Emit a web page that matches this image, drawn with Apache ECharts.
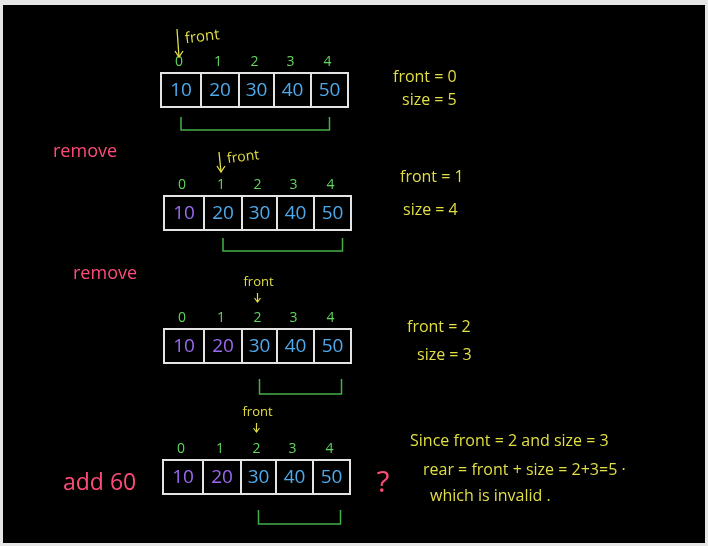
<!DOCTYPE html>
<html>
<head>
<meta charset="utf-8">
<title>Queue front and size</title>
<script src="https://cdn.jsdelivr.net/npm/echarts@6/dist/echarts.min.js"></script>
<style>
  html, body { margin: 0; padding: 0; background: #e6e6e6; }
  #main { position: absolute; left: 3px; top: 5px; width: 702px; height: 538px; background: #000; }
</style>
</head>
<body>
<div id="main"></div>
<script type="text/javascript">

// ---- data ----
var values = [10, 20, 30, 40, 50];
var slots = [0, 1, 2, 3, 4];
var fronts = [0, 1, 2, 2];
var sizes = [5, 4, 3, 3];
var actions = ['', 'remove', 'remove', 'add 60'];
var flags = ['', '', '', '?'];
var notes = [
    ['front = 0', 'size = 5'],
    ['front = 1', 'size = 4'],
    ['front = 2', 'size = 3'],
    ['Since front = 2 and size = 3', 'rear = front + size = 2+3=5 \u00b7', 'which is invalid .']
];

// ---- layout (axis units = image pixels) ----
var rowLeft = [161, 164, 164, 163];
var rowTop = [73, 196, 329, 460];
var cellH = 34;
var cellEdges = [0, 40, 78, 113, 150, 187];
var bracketGap = [10, 8, 16, 16];
var bracketH = [13, 13, 15, 14];
var bracketPad = [0, 10, 9, 9];
var pointerKind = ['side', 'side', 'above', 'above'];
var pointerY = [43, 162, 288, 418];
var actionPos = [null, [53, 152], [73, 274], [63, 483]];
var flagPos = [null, null, null, [383, 483]];
var notePos = [
    [[393, 77], [402, 100]],
    [[400, 177], [403, 210]],
    [[407, 327], [417, 355]],
    [[410, 441], [423, 470], [430, 496]]
];

var FONT = '"Open Sans", "DejaVu Sans", sans-serif';
var YELLOW = '#e2df45';
var GREEN = '#62d65a';
var BRACKET = '#45b04a';
var BLUE = '#4fa9ea';
var PURPLE = '#9a6af0';
var PINK = '#ff4b78';
var BOX = '#e4e4e4';

function cellCenter(r, i) {
    return rowLeft[r] + (cellEdges[i] + cellEdges[i + 1]) / 2;
}

var cellData = [];
var indexData = [];
for (var r = 0; r < fronts.length; r++) {
    for (var i = 0; i < slots.length; i++) {
        cellData.push([r, slots[i], values[i], fronts[r]]);
        indexData.push([r, slots[i]]);
    }
}
var rowData = fronts.map(function (f, r) { return [r, f, sizes[r]]; });
var noteData = [];
notes.forEach(function (lines, r) {
    lines.forEach(function (t, k) { noteData.push([r, k, t]); });
});

var myChart = echarts.init(document.getElementById('main'));

var option = {
    backgroundColor: '#000',
    animation: false,
    grid: { left: 0, right: 0, top: 0, bottom: 0 },
    xAxis: { type: 'value', min: 3, max: 705, show: false },
    yAxis: { type: 'value', min: 5, max: 543, inverse: true, show: false },
    series: [
        {
            // array cells with their values
            type: 'custom',
            data: cellData,
            renderItem: function (params, api) {
                var r = api.value(0), i = api.value(1), v = api.value(2), f = api.value(3);
                var p0 = api.coord([rowLeft[r] + cellEdges[i], rowTop[r]]);
                var p1 = api.coord([rowLeft[r] + cellEdges[i + 1], rowTop[r] + cellH]);
                return {
                    type: 'group',
                    children: [
                        {
                            type: 'rect',
                            shape: { x: p0[0], y: p0[1], width: p1[0] - p0[0], height: p1[1] - p0[1] },
                            style: { fill: 'none', stroke: BOX, lineWidth: 2 }
                        },
                        {
                            type: 'text',
                            x: (p0[0] + p1[0]) / 2,
                            y: (p0[1] + p1[1]) / 2 + 1,
                            style: {
                                text: String(v), fill: i < f ? PURPLE : BLUE,
                                font: '19px ' + FONT, align: 'center', verticalAlign: 'middle'
                            }
                        }
                    ]
                };
            }
        },
        {
            // slot indices
            type: 'custom',
            data: indexData,
            renderItem: function (params, api) {
                var r = api.value(0), i = api.value(1);
                var p = api.coord([cellCenter(r, i) - 2, rowTop[r] - 11]);
                return {
                    type: 'text', x: p[0], y: p[1],
                    style: { text: String(i), fill: GREEN, font: '14px ' + FONT, align: 'center', verticalAlign: 'middle' }
                };
            }
        },
        {
            // bracket spanning the live elements
            type: 'custom',
            data: rowData,
            renderItem: function (params, api) {
                var r = api.value(0), f = api.value(1), s = api.value(2);
                var top = rowTop[r] + cellH + bracketGap[r];
                var x0 = cellCenter(r, f);
                var x1 = cellCenter(r, f + s - 1) + bracketPad[r];
                var pts = [[x0, top], [x0, top + bracketH[r]], [x1, top + bracketH[r]], [x1, top]].map(function (p) {
                    return api.coord(p);
                });
                return {
                    type: 'polyline',
                    shape: { points: pts },
                    style: { fill: 'none', stroke: BRACKET, lineWidth: 1.5 }
                };
            }
        },
        {
            // front pointer
            type: 'custom',
            data: rowData,
            renderItem: function (params, api) {
                var r = api.value(0), f = api.value(1);
                var cx = cellCenter(r, f) - 2;
                var y = pointerY[r];
                var children;
                if (pointerKind[r] === 'side') {
                    var len = r === 0 ? 24 : 16;
                    var a0 = api.coord([cx - 2, y - len / 2 - 2]);
                    var a1 = api.coord([cx, y + len / 2 + 2]);
                    var t = api.coord([cx + 6, y - (r === 0 ? 4 : 3)]);
                    children = [
                        { type: 'line', shape: { x1: a0[0], y1: a0[1], x2: a1[0], y2: a1[1] },
                          style: { stroke: YELLOW, lineWidth: 1.3 } },
                        { type: 'polyline', shape: { points: [[a1[0] - 4, a1[1] - 6], a1, [a1[0] + 4, a1[1] - 6]] },
                          style: { fill: 'none', stroke: YELLOW, lineWidth: 1.3 } },
                        { type: 'text', x: t[0], y: t[1], rotation: 0.12,
                          style: { text: 'front', fill: YELLOW, font: (r === 0 ? 15 : 14) + 'px ' + FONT,
                                   align: 'left', verticalAlign: 'middle' } }
                    ];
                } else {
                    var tp = api.coord([cx + 1, y - 6]);
                    var b0 = api.coord([cx, y + 5]);
                    var b1 = api.coord([cx, y + 14]);
                    children = [
                        { type: 'text', x: tp[0], y: tp[1],
                          style: { text: 'front', fill: YELLOW, font: '13px ' + FONT, align: 'center', verticalAlign: 'middle' } },
                        { type: 'line', shape: { x1: b0[0], y1: b0[1], x2: b1[0], y2: b1[1] },
                          style: { stroke: YELLOW, lineWidth: 1.2 } },
                        { type: 'polyline', shape: { points: [[b1[0] - 3, b1[1] - 4], b1, [b1[0] + 3, b1[1] - 4]] },
                          style: { fill: 'none', stroke: YELLOW, lineWidth: 1.2 } }
                    ];
                }
                return { type: 'group', children: children };
            }
        },
        {
            // operation labels on the left and the question mark
            type: 'custom',
            data: rowData,
            renderItem: function (params, api) {
                var r = api.value(0);
                var children = [];
                if (actions[r]) {
                    var p = api.coord(actionPos[r]);
                    children.push({ type: 'text', x: p[0], y: p[1],
                        style: { text: actions[r], fill: PINK, font: (r === 3 ? 23 : 18) + 'px ' + FONT,
                                 align: 'left', verticalAlign: 'middle' } });
                }
                if (flags[r]) {
                    var q = api.coord(flagPos[r]);
                    children.push({ type: 'text', x: q[0], y: q[1],
                        style: { text: flags[r], fill: PINK, font: '30px ' + FONT, align: 'center', verticalAlign: 'middle' } });
                }
                return { type: 'group', children: children };
            }
        },
        {
            // notes on the right
            type: 'custom',
            data: noteData,
            renderItem: function (params, api) {
                var r = api.value(0), k = api.value(1);
                var t = noteData[params.dataIndex][2];
                var p = api.coord(notePos[r][k]);
                return {
                    type: 'text', x: p[0], y: p[1],
                    style: { text: t, fill: YELLOW, font: '16px ' + FONT, align: 'left', verticalAlign: 'middle' }
                };
            }
        }
    ]
};

myChart.setOption(option);
</script>
</body>
</html>
